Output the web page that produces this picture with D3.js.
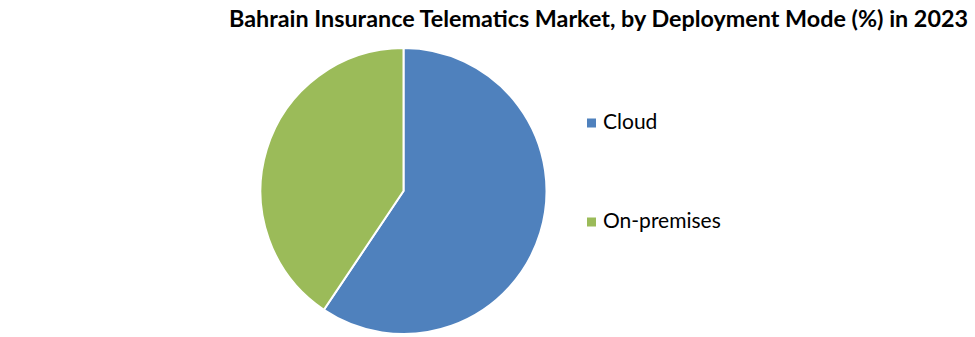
<!DOCTYPE html>
<html>
<head>
<meta charset="utf-8">
<title>Bahrain Insurance Telematics Market, by Deployment Mode</title>
<script src="https://cdn.jsdelivr.net/npm/d3@7"></script>
<style>
  html, body { margin: 0; padding: 0; background: #fff; }
  svg { display: block; }
  text { font-family: Lato, "Open Sans", sans-serif; fill: #000; }
</style>
</head>
<body>
<svg id="chart"></svg>
<script>
var titleText = "Bahrain Insurance Telematics Market, by Deployment Mode (%) in 2023";
var categories = ["Cloud", "On-premises"];
var shares = [59.4, 40.6];
var colors = ["#4f81bd", "#9bbb59"];

var width = 975;
var height = 337;

var svg = d3.select("#chart").attr("width", width).attr("height", height);

// squeeze or stretch a text so it spans the same width as in the picture
function fitText(sel, target) {
  var w = sel.node().getComputedTextLength();
  if (Math.abs(w - target) > 1) {
    sel.attr("textLength", target).attr("lengthAdjust", "spacingAndGlyphs");
  }
}

var title = svg.append("text")
  .attr("x", 229)
  .attr("y", 27)
  .style("font-size", "22px")
  .style("font-weight", "bold")
  .text(titleText);
fitText(title, 739);

var radius = 143;
var g = svg.append("g").attr("transform", "translate(403.5,191)");

var pie = d3.pie().sort(null).value(function (d) { return d; });
var arc = d3.arc().innerRadius(0).outerRadius(radius);

g.selectAll(".slice")
  .data(pie(shares))
  .enter()
  .append("path")
  .attr("class", "slice")
  .attr("d", arc)
  .attr("fill", function (d, i) { return colors[i]; })
  .attr("stroke", "#fff")
  .attr("stroke-width", 2)
  .attr("stroke-linejoin", "miter");

var legendY = d3.scalePoint().domain(categories).range([123, 222]);
var legendWidths = [54, 118];

var item = svg.selectAll(".legend")
  .data(categories)
  .enter()
  .append("g")
  .attr("class", "legend")
  .attr("transform", function (d) { return "translate(587," + legendY(d) + ")"; });

item.append("rect")
  .attr("x", 0)
  .attr("y", -4.5)
  .attr("width", 9)
  .attr("height", 9)
  .attr("fill", function (d, i) { return colors[i]; });

item.append("text")
  .attr("x", 16)
  .attr("y", 6)
  .style("font-size", "21px")
  .text(function (d) { return d; })
  .each(function (d, i) { fitText(d3.select(this), legendWidths[i]); });
</script>
</body>
</html>
